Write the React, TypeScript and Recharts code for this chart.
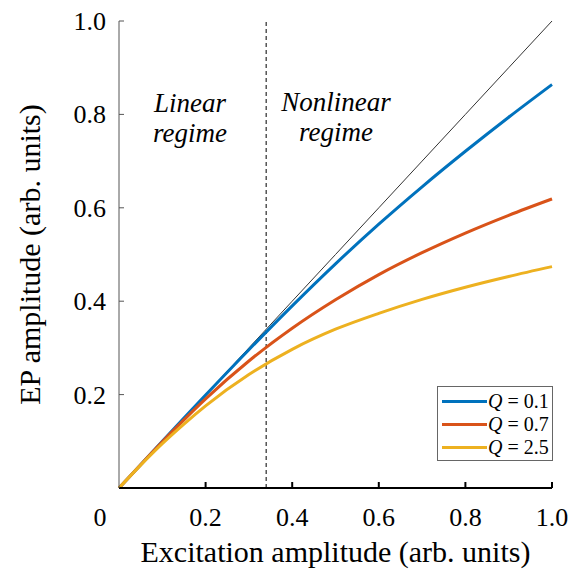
import React from "react";
import { LineChart, Line, XAxis, YAxis, ReferenceLine } from "recharts";

const BLUE = "#0072BD";
const RED = "#D95319";
const YELLOW = "#EDB120";
const FONT = "'Liberation Serif', 'Times New Roman', serif";

// excitation amplitude
const xs = [0, 0.05, 0.1, 0.15, 0.2, 0.3, 0.4, 0.5, 0.6, 0.7, 0.8, 0.9, 1.0];
// EP amplitude per Q
const ideal = [0, 0.05, 0.1, 0.15, 0.2, 0.3, 0.4, 0.5, 0.6, 0.7, 0.8, 0.9, 1.0];
const q01 = [0, 0.05, 0.1, 0.15, 0.199, 0.296, 0.39, 0.48, 0.565, 0.645, 0.721, 0.794, 0.864];
const q07 = [0, 0.05, 0.099, 0.146, 0.191, 0.272, 0.342, 0.403, 0.457, 0.504, 0.546, 0.584, 0.619];
const q25 = [0, 0.049, 0.095, 0.137, 0.176, 0.243, 0.297, 0.34, 0.374, 0.404, 0.43, 0.453, 0.474];

const xTicks = [0, 0.2, 0.4, 0.6, 0.8, 1.0];
const yTicks = [0.2, 0.4, 0.6, 0.8, 1.0];
const regimeX = 0.34;

const series = [
  { key: "q01", label: "0.1", color: BLUE },
  { key: "q07", label: "0.7", color: RED },
  { key: "q25", label: "2.5", color: YELLOW },
];

const data = xs.map((x, i) => ({ x, ideal: ideal[i], q01: q01[i], q07: q07[i], q25: q25[i] }));

const fmt = (v: number) => (v === 0 ? "0" : v.toFixed(1));

function XTick({ x, y, payload }: any) {
  const v = payload.value;
  return (
    <g>
      {v !== 0 && <line x1={x} y1={y} x2={x} y2={y - 6} stroke="#000" strokeWidth={2} />}
      <text x={v === 0 ? x - 19 : x} y={y + 38} textAnchor="middle" fontSize={26} style={{ fontFamily: FONT }} fill="#000">
        {fmt(v)}
      </text>
    </g>
  );
}

function YTick({ x, y, payload }: any) {
  return (
    <g>
      <line x1={x} y1={y} x2={x + 5} y2={y} stroke="#555" strokeWidth={1} />
      <text x={x - 13} y={y + 9} textAnchor="end" fontSize={26} style={{ fontFamily: FONT }} fill="#000">
        {fmt(payload.value)}
      </text>
    </g>
  );
}

function LegendBox() {
  return (
    <div
      style={{
        position: "absolute",
        left: 437,
        top: 386,
        border: "1px solid #666",
        background: "#fff",
        width: 116,
        height: 75,
        boxSizing: "border-box",
        padding: "3px 0 0 4px",
        fontFamily: FONT,
        fontSize: 20,
        lineHeight: "23px",
      }}
    >
      {series.map((s) => (
        <div key={s.key} style={{ display: "flex", alignItems: "center", whiteSpace: "nowrap" }}>
          <span style={{ display: "inline-block", width: 45, height: 3, background: s.color, marginRight: 1 }} />
          <span>
            <i>Q</i> = {s.label}
          </span>
        </div>
      ))}
    </div>
  );
}

export default function App() {
  return (
    <div style={{ position: "absolute", left: 0, top: 0, width: 580, height: 576, background: "#fff" }}>
      <LineChart width={580} height={576} data={data} margin={{ top: 21, right: 28, bottom: 0, left: 59 }}>
        <XAxis
          dataKey="x"
          type="number"
          domain={[0, 1]}
          ticks={xTicks}
          tick={<XTick />}
          tickSize={0}
          tickMargin={0}
          tickLine={false}
          height={88}
          axisLine={{ stroke: "#000", strokeWidth: 2 }}
          label={{ value: "Excitation amplitude (arb. units)", position: "insideBottom", offset: 14, fontSize: 30, fontFamily: FONT, fill: "#000" }}
        />
        <YAxis
          type="number"
          domain={[0, 1]}
          ticks={yTicks}
          tick={<YTick />}
          tickSize={0}
          tickMargin={0}
          tickLine={false}
          width={60}
          axisLine={{ stroke: "#555", strokeWidth: 1 }}
          label={{ value: "EP amplitude (arb. units)", angle: -90, position: "insideLeft", offset: -30, fontSize: 30, fontFamily: FONT, fill: "#000", style: { textAnchor: "middle" } }}
        />
        <ReferenceLine x={regimeX} stroke="#555" strokeWidth={1.5} strokeDasharray="4 3" />
        <Line dataKey="ideal" stroke="#333" strokeWidth={1} dot={false} isAnimationActive={false} />
        {series.map((s) => (
          <Line key={s.key} dataKey={s.key} stroke={s.color} strokeWidth={3} dot={false} type="monotone" isAnimationActive={false} />
        ))}
      </LineChart>
      <LegendBox />
      <svg width={580} height={576} style={{ position: "absolute", left: 0, top: 0, pointerEvents: "none" }}>
        <g style={{ fontFamily: FONT }} fontStyle="italic" fontSize={27} fill="#000" textAnchor="middle">
          <text x={190} y={112}>Linear</text>
          <text x={190} y={142}>regime</text>
          <text x={336} y={111}>Nonlinear</text>
          <text x={336} y={141}>regime</text>
        </g>
      </svg>
    </div>
  );
}
